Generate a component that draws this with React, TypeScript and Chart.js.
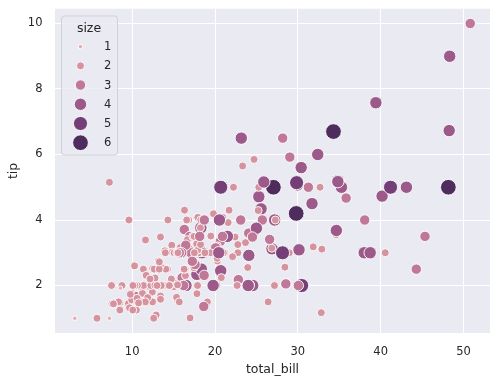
import { useEffect, useRef } from "react";
import { Chart, registerables } from "chart.js";

Chart.register(...registerables);

// ---- data (tips) ----
const totalBill = [
  16.99, 10.34, 21.01, 23.68, 24.59, 25.29, 8.77, 26.88, 15.04, 14.78,
  10.27, 35.26, 15.42, 18.43, 14.83, 21.58, 10.33, 16.29, 16.97, 20.65,
  17.92, 20.29, 15.77, 39.42, 19.82, 17.81, 13.37, 12.69, 21.7, 19.65,
  9.55, 18.35, 15.06, 20.69, 17.78, 24.06, 16.31, 16.93, 18.69, 31.27,
  16.04, 17.46, 13.94, 9.68, 30.4, 18.29, 22.23, 32.4, 28.55, 18.04,
  12.54, 10.29, 34.81, 9.94, 25.56, 19.49, 38.01, 26.41, 11.24, 48.27,
  20.29, 13.81, 11.02, 18.29, 17.59, 20.08, 16.45, 3.07, 20.23, 15.01,
  12.02, 17.07, 26.86, 25.28, 14.73, 10.51, 17.92, 27.2, 22.76, 17.29,
  19.44, 16.66, 10.07, 32.68, 15.98, 34.83, 13.03, 18.28, 24.71, 21.16,
  28.97, 22.49, 5.75, 16.32, 22.75, 40.17, 27.28, 12.03, 21.01, 12.46,
  11.35, 15.38, 44.3, 22.42, 20.92, 15.36, 20.49, 25.21, 18.24, 14.31,
  14.0, 7.25, 38.07, 23.95, 25.71, 17.31, 29.93, 10.65, 12.43, 24.08,
  11.69, 13.42, 14.26, 15.95, 12.48, 29.8, 8.52, 14.52, 11.38, 22.82,
  19.08, 20.27, 11.17, 12.26, 18.26, 8.51, 10.33, 14.15, 16.0, 13.16,
  17.47, 34.3, 41.19, 27.05, 16.43, 8.35, 18.64, 11.87, 9.78, 7.51,
  14.07, 13.13, 17.26, 24.55, 19.77, 29.85, 48.17, 25.0, 13.39, 16.49,
  21.5, 12.66, 16.21, 13.81, 17.51, 24.52, 20.76, 31.71, 10.59, 10.63,
  50.81, 15.81, 7.25, 31.85, 16.82, 32.9, 17.89, 14.48, 9.6, 34.63,
  34.65, 23.33, 45.35, 23.17, 40.55, 20.69, 20.9, 30.46, 18.15, 23.1,
  15.69, 19.81, 28.44, 15.48, 16.58, 7.56, 10.34, 43.11, 13.0, 13.51,
  18.71, 12.74, 13.0, 16.4, 20.53, 16.47, 26.59, 38.73, 24.27, 12.76,
  30.06, 25.89, 48.33, 13.27, 28.17, 12.9, 28.15, 11.59, 7.74, 30.14,
  12.16, 13.42, 8.58, 15.98, 13.42, 16.27, 10.09, 20.45, 13.28, 22.12,
  24.01, 15.69, 11.61, 10.77, 15.53, 10.07, 12.6, 32.83, 35.83, 29.03,
  27.18, 22.67, 17.82, 18.78,
];

const tip = [
  1.01, 1.66, 3.5, 3.31, 3.61, 4.71, 2.0, 3.12, 1.96, 3.23,
  1.71, 5.0, 1.57, 3.0, 3.02, 3.92, 1.67, 3.71, 3.5, 3.35,
  4.08, 2.75, 2.23, 7.58, 3.18, 2.34, 2.0, 2.0, 4.3, 3.0,
  1.45, 2.5, 3.0, 2.45, 3.27, 3.6, 2.0, 3.07, 2.31, 5.0,
  2.24, 2.54, 3.06, 1.32, 5.6, 3.0, 5.0, 6.0, 2.05, 3.0,
  2.5, 2.6, 5.2, 1.56, 4.34, 3.51, 3.0, 1.5, 1.76, 6.73,
  3.21, 2.0, 1.98, 3.76, 2.64, 3.15, 2.47, 1.0, 2.01, 2.09,
  1.97, 3.0, 3.14, 5.0, 2.2, 1.25, 3.08, 4.0, 3.0, 2.71,
  3.0, 3.4, 1.83, 5.0, 2.03, 5.17, 2.0, 4.0, 5.85, 3.0,
  3.0, 3.5, 1.0, 4.3, 3.25, 4.73, 4.0, 1.5, 3.0, 1.5,
  2.5, 3.0, 2.5, 3.48, 4.08, 1.64, 4.06, 4.29, 3.76, 4.0,
  3.0, 1.0, 4.0, 2.55, 4.0, 3.5, 5.07, 1.5, 1.8, 2.92,
  2.31, 1.68, 2.5, 2.0, 2.52, 4.2, 1.48, 2.0, 2.0, 2.18,
  1.5, 2.83, 1.5, 2.0, 3.25, 1.25, 2.0, 2.0, 2.0, 2.75,
  3.5, 6.7, 5.0, 5.0, 2.3, 1.5, 1.36, 1.63, 1.73, 2.0,
  2.5, 2.0, 2.74, 2.0, 2.0, 5.14, 5.0, 3.75, 2.61, 2.0,
  3.5, 2.5, 2.0, 2.0, 3.0, 3.48, 2.24, 4.5, 1.61, 2.0,
  10.0, 3.16, 5.15, 3.18, 4.0, 3.11, 2.0, 2.0, 4.0, 3.55,
  3.68, 5.65, 3.5, 6.5, 3.0, 5.0, 3.5, 2.0, 3.5, 4.0,
  1.5, 4.19, 2.56, 2.02, 4.0, 1.44, 2.0, 5.0, 2.0, 2.0,
  4.0, 2.01, 2.0, 2.5, 4.0, 3.23, 3.41, 3.0, 2.03, 2.23,
  2.0, 5.16, 9.0, 2.5, 6.5, 1.1, 3.0, 1.5, 1.44, 3.09,
  2.2, 3.48, 1.92, 3.0, 1.58, 2.5, 2.0, 3.0, 2.72, 2.88,
  2.0, 3.0, 3.39, 1.47, 3.0, 1.25, 1.0, 1.17, 4.67, 5.92,
  2.0, 2.0, 1.75, 3.0,
];

const partySize = [
  2, 3, 3, 2, 4, 4, 2, 4, 2, 2,
  2, 4, 2, 4, 2, 2, 3, 3, 3, 3,
  2, 2, 2, 4, 2, 4, 2, 2, 2, 2,
  2, 4, 2, 4, 2, 3, 3, 3, 3, 3,
  3, 2, 2, 2, 4, 2, 2, 4, 3, 2,
  2, 2, 4, 2, 4, 2, 4, 2, 2, 4,
  2, 2, 2, 4, 3, 3, 2, 1, 2, 2,
  2, 3, 2, 2, 2, 2, 2, 4, 2, 2,
  2, 2, 1, 2, 2, 4, 2, 2, 2, 2,
  2, 2, 2, 2, 2, 4, 2, 2, 2, 2,
  2, 2, 3, 2, 2, 2, 2, 2, 2, 2,
  2, 1, 3, 2, 3, 2, 4, 2, 2, 4,
  2, 2, 2, 2, 2, 6, 2, 2, 2, 3,
  2, 2, 2, 2, 2, 2, 2, 2, 2, 2,
  2, 6, 5, 6, 2, 2, 3, 2, 2, 2,
  2, 2, 3, 4, 4, 5, 6, 4, 2, 4,
  4, 2, 3, 2, 2, 3, 2, 4, 2, 2,
  3, 2, 2, 2, 2, 2, 2, 2, 2, 2,
  4, 2, 3, 4, 2, 5, 3, 5, 3, 3,
  2, 2, 2, 2, 2, 2, 2, 4, 2, 2,
  3, 2, 2, 2, 4, 3, 3, 4, 2, 2,
  3, 4, 4, 2, 3, 2, 5, 2, 2, 4,
  2, 2, 1, 3, 2, 2, 2, 4, 2, 2,
  4, 3, 2, 2, 2, 2, 2, 2, 3, 3,
  2, 2, 2, 2,
];

const sizeLevels = [1, 2, 3, 4, 5, 6];
const sizeColors = ["#e4b0b4", "#d4939f", "#bf7898", "#9c5a8a", "#743f77", "#4e2c5e"];
const sizeRadii = [2.7, 4.45, 5.65, 6.65, 7.5, 8.3];

const xTicks = [10, 20, 30, 40, 50];
const yTicks = [2, 4, 6, 8, 10];
const xLabel = "total_bill";
const yLabel = "tip";
const legendTitle = "size";

const FONT = '"DejaVu Sans", "Liberation Sans", sans-serif';
const TEXT = "#262626";
const EDGE = 0.9;

function margin(values: number[]) {
  const lo = Math.min(...values);
  const hi = Math.max(...values);
  const m = (hi - lo) * 0.05;
  return [lo - m, hi + m];
}

const bgPlugin = {
  id: "axesBg",
  beforeDraw(chart: any) {
    const { ctx, chartArea } = chart;
    ctx.save();
    ctx.fillStyle = "#EAEAF2";
    ctx.fillRect(chartArea.left, chartArea.top, chartArea.right - chartArea.left, chartArea.bottom - chartArea.top);
    ctx.restore();
  },
};

const legendPlugin = {
  id: "sizeLegend",
  afterDraw(chart: any) {
    const ctx = chart.ctx;
    ctx.save();
    ctx.beginPath();
    ctx.roundRect(61.5, 16, 56, 139, 3);
    ctx.fillStyle = "rgba(234,234,242,0.8)";
    ctx.fill();
    ctx.strokeStyle = "rgba(204,204,204,0.8)";
    ctx.lineWidth = 1;
    ctx.stroke();
    ctx.fillStyle = TEXT;
    ctx.font = `12.5px ${FONT}`;
    ctx.textAlign = "center";
    ctx.textBaseline = "alphabetic";
    ctx.fillText(legendTitle, 89, 32);
    sizeLevels.forEach((lvl, i) => {
      const y = 46.6 + i * 19.22;
      ctx.beginPath();
      ctx.arc(80.5, y, sizeRadii[i] - EDGE / 2, 0, Math.PI * 2);
      ctx.fillStyle = sizeColors[i];
      ctx.fill();
      ctx.strokeStyle = "#ffffff";
      ctx.lineWidth = EDGE;
      ctx.stroke();
      ctx.fillStyle = TEXT;
      ctx.font = `11.5px ${FONT}`;
      ctx.textAlign = "left";
      ctx.textBaseline = "middle";
      ctx.fillText(String(lvl), 104, y + 0.5);
    });
    ctx.restore();
  },
};

export default function App() {
  const ref = useRef<HTMLCanvasElement | null>(null);

  useEffect(() => {
    if (!ref.current) return;
    const [xMin, xMax] = margin(totalBill);
    const [yMin, yMax] = margin(tip);
    const points = totalBill.map((x, i) => ({ x, y: tip[i] }));
    const colors = partySize.map((s) => sizeColors[sizeLevels.indexOf(s)]);
    const radii = partySize.map((s) => sizeRadii[sizeLevels.indexOf(s)] - EDGE / 2);

    const chart = new Chart(ref.current, {
      type: "scatter",
      data: {
        datasets: [
          {
            label: legendTitle,
            data: points,
            backgroundColor: colors,
            borderColor: "#ffffff",
            borderWidth: EDGE,
            pointRadius: radii,
            pointHoverRadius: radii,
          },
        ],
      },
      options: {
        responsive: false,
        animation: false,
        events: [],
        devicePixelRatio: 1,
        layout: { padding: { top: 8, right: 9, left: 0, bottom: 0 } },
        plugins: { legend: { display: false }, tooltip: { enabled: false } },
        scales: {
          x: {
            type: "linear",
            position: "bottom",
            min: xMin,
            max: xMax,
            afterBuildTicks: (s: any) => {
              s.ticks = xTicks.map((v) => ({ value: v }));
            },
            afterFit: (s: any) => {
              s.height = 52;
              s.paddingLeft = 0;
              s.paddingRight = 0;
            },
            grid: { color: "#ffffff", lineWidth: 1, drawTicks: false },
            border: { display: false },
            ticks: {
              color: TEXT,
              font: { family: FONT, size: 11.5 },
              padding: 12.5,
              maxRotation: 0,
              autoSkip: false,
            },
            title: {
              display: true,
              text: xLabel,
              color: TEXT,
              font: { family: FONT, size: 12.5 },
              padding: { top: 0, bottom: 8 },
            },
          },
          y: {
            type: "linear",
            position: "left",
            min: yMin,
            max: yMax,
            afterBuildTicks: (s: any) => {
              s.ticks = yTicks.map((v) => ({ value: v }));
            },
            afterFit: (s: any) => {
              s.width = 55;
              s.paddingTop = 0;
              s.paddingBottom = 0;
            },
            grid: { color: "#ffffff", lineWidth: 1, drawTicks: false },
            border: { display: false },
            ticks: {
              color: TEXT,
              font: { family: FONT, size: 11.5 },
              padding: 12.5,
              autoSkip: false,
            },
            title: {
              display: true,
              text: yLabel,
              color: TEXT,
              font: { family: FONT, size: 12.5 },
              padding: { top: 6, bottom: 0 },
            },
          },
        },
      },
      plugins: [bgPlugin, legendPlugin],
    });
    return () => chart.destroy();
  }, []);

  return (
    <div style={{ position: "fixed", left: 0, top: 0, width: 499, height: 385, background: "#ffffff" }}>
      <canvas ref={ref} width={499} height={385} style={{ display: "block" }} />
    </div>
  );
}
